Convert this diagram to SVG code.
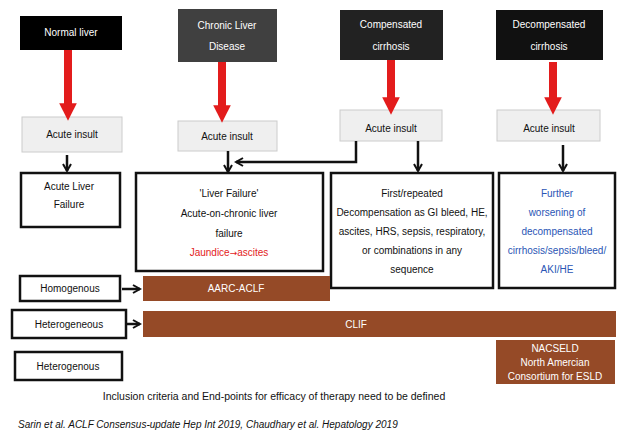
<svg xmlns="http://www.w3.org/2000/svg" width="624" height="439" viewBox="0 0 624 439">
<defs>
<style>
text{font-family:"Liberation Sans",Arial,sans-serif;font-size:10px;text-anchor:middle;fill:#111}
.w{fill:#fff}
.ins{fill:#efefef;stroke:#ccc;stroke-width:1}
.bx{fill:#fff;stroke:#111;stroke-width:2.5}
.bar{fill:#954a27}
.red{stroke:#e31c1c;stroke-width:8;fill:none}
.blk{stroke:#111;stroke-width:2.5;fill:none;marker-end:url(#ah)}
.blue{fill:#2a55b5}
</style>
<marker id="ah" viewBox="0 0 10 10" refX="8" refY="5" markerWidth="4" markerHeight="4" orient="auto"><path d="M1,1 L8,5 L1,9" fill="none" stroke="#111" stroke-width="2"/></marker>
<marker id="rh" viewBox="0 0 10 10" refX="5" refY="5" markerWidth="3" markerHeight="2.2" orient="auto"><path d="M0,0 L10,5 L0,10 z" fill="#e31c1c"/></marker>
</defs>
<rect width="624" height="439" fill="#fff"/>
<g id="n-normal"><rect x="20" y="16" width="102" height="34" fill="#000"/><text x="71" y="36" class="w">Normal liver</text></g>
<g id="n-chronic"><rect x="178" y="9" width="99" height="53" fill="#404040"/><text x="227" y="29" class="w">Chronic Liver</text><text x="227" y="50" class="w">Disease</text></g>
<g id="n-comp"><rect x="340" y="10" width="103" height="50" fill="#222"/><text x="391" y="28" class="w">Compensated</text><text x="391" y="50" class="w">cirrhosis</text></g>
<g id="n-decomp"><rect x="496" y="10" width="107" height="50" fill="#111"/><text x="549" y="28" class="w">Decompensated</text><text x="549" y="50" class="w">cirrhosis</text></g>
<g id="i1"><rect class="ins" x="22" y="117" width="100" height="35"/><text x="72" y="138">Acute insult</text></g>
<g id="i2"><rect class="ins" x="178" y="121" width="99" height="30"/><text x="227" y="140">Acute insult</text></g>
<g id="i3"><rect class="ins" x="340" y="110" width="102" height="31"/><text x="391" y="132">Acute insult</text></g>
<g id="i4"><rect class="ins" x="497" y="110" width="103" height="31"/><text x="549" y="132">Acute insult</text></g>
<g id="alf"><rect class="bx" x="21" y="173" width="99" height="54"/><text x="69" y="190">Acute Liver</text><text x="69" y="208">Failure</text></g>
<g id="aclf"><rect class="bx" x="136" y="173" width="187" height="98"/><text x="229" y="197">'Liver Failure'</text><text x="229" y="217">Acute-on-chronic liver</text><text x="229" y="237">failure</text><text x="229" y="256" style="fill:#e31c1c">Jaundice<tspan style="font-family:'DejaVu Sans',sans-serif;font-size:9px">→</tspan>ascites</text></g>
<g id="first"><rect class="bx" x="331" y="173" width="162" height="115"/><text x="412" y="197">First/repeated</text><text x="412" y="216">Decompensation as GI bleed, HE,</text><text x="412" y="235">ascites, HRS, sepsis, respiratory,</text><text x="412" y="254">or combinations in any</text><text x="412" y="273">sequence</text></g>
<g id="further"><rect class="bx" x="499" y="173" width="116" height="115"/><text x="557" y="197" class="blue">Further</text><text x="557" y="216" class="blue">worsening of</text><text x="557" y="235" class="blue">decompensated</text><text x="557" y="254" class="blue">cirrhosis/sepsis/bleed/</text><text x="557" y="273" class="blue">AKI/HE</text></g>
<g id="homog"><rect class="bx" x="20" y="276" width="100" height="25"/><text x="70" y="292">Homogenous</text></g>
<g id="aarc"><rect class="bar" x="143" y="276" width="187" height="25"/><text x="236" y="292" class="w">AARC-ACLF</text></g>
<g id="hetero1"><rect class="bx" x="12" y="310" width="114" height="28"/><text x="69" y="328">Heterogeneous</text></g>
<g id="clif"><rect class="bar" x="143" y="311" width="473" height="26"/><text x="356" y="328" class="w">CLIF</text></g>
<g id="hetero2"><rect class="bx" x="15" y="352" width="107" height="28"/><text x="68" y="370">Heterogenous</text></g>
<g id="nacseld"><rect class="bar" x="496" y="340" width="119" height="44"/><text x="555" y="352" class="w">NACSELD</text><text x="555" y="366" class="w">North Amercian</text><text x="555" y="380" class="w">Consortium for ESLD</text></g>
<g id="connectors">
<line class="red" x1="68" y1="50" x2="68" y2="112" marker-end="url(#rh)"/>
<line class="red" x1="222" y1="62" x2="222" y2="114" marker-end="url(#rh)"/>
<line class="red" x1="391" y1="60" x2="391" y2="106" marker-end="url(#rh)"/>
<line class="red" x1="553" y1="62" x2="553" y2="106" marker-end="url(#rh)"/>
<line class="blk" x1="67" y1="155" x2="67" y2="171"/>
<line class="blk" x1="228" y1="151" x2="228" y2="172"/>
<polyline class="blk" points="356,141 356,162 236,162"/>
<line class="blk" x1="418" y1="141" x2="418" y2="171"/>
<line class="blk" x1="563" y1="145" x2="563" y2="171"/>
<line class="blk" x1="122" y1="289" x2="140" y2="289"/>
<line class="blk" x1="127" y1="324" x2="140" y2="324"/>
</g>
<text x="274" y="400" style="font-size:10.5px">Inclusion criteria and End-points for efficacy of therapy need to be defined</text>
<text x="18" y="428" style="text-anchor:start;font-style:italic">Sarin et al. ACLF Consensus-update Hep Int 2019, Chaudhary et al. Hepatology 2019</text>
</svg>
